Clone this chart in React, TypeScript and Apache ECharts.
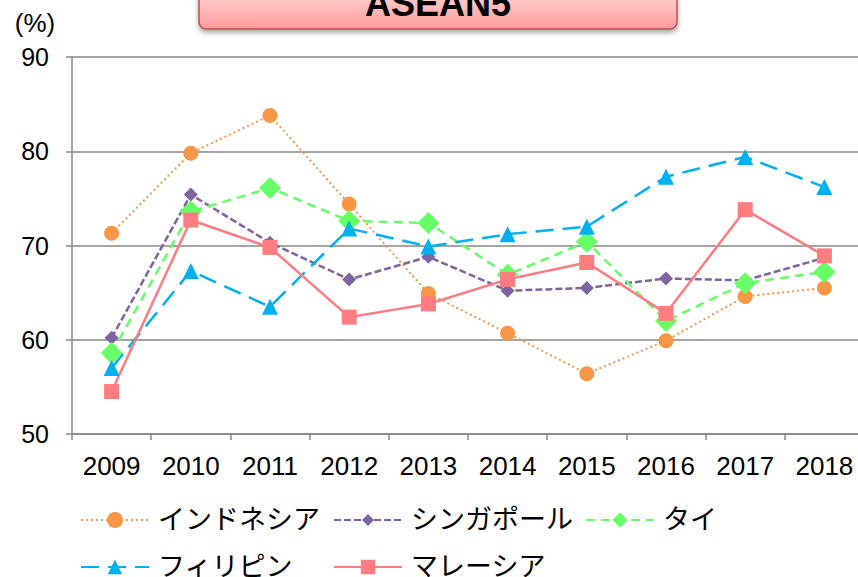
import React, { useEffect, useRef } from 'react';
import * as echarts from 'echarts';

const years = ['2009', '2010', '2011', '2012', '2013', '2014', '2015', '2016', '2017', '2018'];
const indonesia = [71.3, 79.8, 83.8, 74.4, 64.9, 60.7, 56.4, 59.9, 64.6, 65.5];
const singapore = [60.2, 75.4, 70.3, 66.4, 68.8, 65.2, 65.5, 66.5, 66.3, 68.7];
const thailand = [58.6, 73.6, 76.1, 72.6, 72.4, 66.9, 70.4, 62.0, 66.0, 67.2];
const philippines = [57.0, 67.3, 63.5, 71.8, 69.9, 71.2, 72.0, 77.3, 79.4, 76.2];
const malaysia = [54.5, 72.7, 69.8, 62.4, 63.8, 66.4, 68.2, 62.8, 73.8, 68.9];
const yTicks = { min: 50, max: 90, interval: 10 };

const FONT = '"Liberation Sans", Arial, "Noto Sans CJK JP", sans-serif';
const AXIS_GRAY = '#878787';

export default function App() {
  const ref = useRef<HTMLDivElement>(null);
  useEffect(() => {
    if (!ref.current) return;
    const chart = echarts.init(ref.current, undefined, { renderer: 'svg' });
    const legendBase = {
      orient: 'horizontal',
      itemWidth: 68,
      itemGap: 0,
      padding: 0,
      selectedMode: false,
      textStyle: { fontSize: 27, fontFamily: FONT, color: '#000', lineHeight: 30, padding: [0, 0, 0, 4] },
    };
    const option: any = {
      animation: false,
      backgroundColor: '#fff',
      grid: { left: 72, top: 57, width: 792, height: 377, containLabel: false, outerBoundsMode: 'none' },
      xAxis: {
        type: 'category',
        data: years,
        boundaryGap: true,
        axisLine: { show: true, lineStyle: { color: AXIS_GRAY, width: 1.5 } },
        axisTick: { show: true, length: 6, interval: 0, lineStyle: { color: AXIS_GRAY, width: 1.5 } },
        axisLabel: { fontSize: 26, fontFamily: FONT, color: '#000', margin: 19, interval: 0 },
        splitLine: { show: false },
      },
      yAxis: {
        type: 'value',
        min: yTicks.min,
        max: yTicks.max,
        interval: yTicks.interval,
        axisLine: { show: true, lineStyle: { color: AXIS_GRAY, width: 1.5 } },
        axisTick: { show: true, length: 6, lineStyle: { color: AXIS_GRAY, width: 1.5 } },
        axisLabel: { fontSize: 25, fontFamily: FONT, color: '#000', margin: 23 },
        splitLine: { show: true, lineStyle: { color: AXIS_GRAY, width: 1.5 } },
      },
      legend: [
        { ...legendBase, data: ['インドネシア'], left: 80, top: 505, itemHeight: 20 },
        { ...legendBase, data: ['シンガポール'], left: 333, top: 505, itemHeight: 15 },
        { ...legendBase, data: ['タイ'], left: 585, top: 505, itemHeight: 19 },
        { ...legendBase, data: ['フィリピン'], left: 80, top: 552, itemHeight: 18 },
        { ...legendBase, data: ['マレーシア'], left: 333, top: 552, itemHeight: 18 },
      ],
      series: [
        {
          name: 'インドネシア', type: 'line', data: indonesia,
          symbol: 'circle', symbolSize: 15,
          lineStyle: { color: '#F79646', width: 2, type: [2, 3] },
          itemStyle: { color: '#F79646' },
        },
        {
          name: 'シンガポール', type: 'line', data: singapore,
          symbol: 'diamond', symbolSize: 14,
          lineStyle: { color: '#8064A2', width: 2.5, type: [7, 3] },
          itemStyle: { color: '#8064A2' },
        },
        {
          name: 'タイ', type: 'line', data: thailand,
          symbol: 'diamond', symbolSize: 22,
          lineStyle: { color: '#66FF66', width: 2.5, type: [9, 6] },
          itemStyle: { color: '#66FF66' },
        },
        {
          name: 'フィリピン', type: 'line', data: philippines,
          symbol: 'triangle', symbolSize: 16,
          lineStyle: { color: '#00B0F0', width: 2.5, type: [18, 9] },
          itemStyle: { color: '#00B0F0' },
        },
        {
          name: 'マレーシア', type: 'line', data: malaysia,
          symbol: 'rect', symbolSize: 15,
          lineStyle: { color: '#FF7C80', width: 2.5, type: 'solid' },
          itemStyle: { color: '#FF7C80' },
        },
      ],
      graphic: [
        {
          type: 'rect',
          shape: { x: 199, y: -20, width: 478, height: 49, r: 7 },
          style: {
            fill: new echarts.graphic.LinearGradient(0, 0, 0, 1, [
              { offset: 0, color: '#FFE6E6' },
              { offset: 1, color: '#FF9A9A' },
            ]),
            stroke: '#C0504D',
            lineWidth: 1.5,
            shadowBlur: 5,
            shadowOffsetY: 3,
            shadowColor: 'rgba(0,0,0,0.35)',
          },
          z: 10,
        },
        {
          type: 'text',
          x: 438,
          y: 3,
          style: {
            text: 'ASEAN5',
            fontSize: 36,
            fontWeight: 'bold',
            fontFamily: FONT,
            fill: '#000',
            align: 'center',
            verticalAlign: 'middle',
          },
          z: 11,
        },
        {
          type: 'text',
          x: 35,
          y: 23,
          style: {
            text: '(%)',
            fontSize: 26,
            fontFamily: FONT,
            fill: '#000',
            align: 'center',
            verticalAlign: 'middle',
          },
        },
      ],
    };
    chart.setOption(option);
    return () => chart.dispose();
  }, []);
  return (
    <div
      ref={ref}
      style={{ position: 'absolute', left: 0, top: 0, width: 858, height: 577 }}
    />
  );
}
